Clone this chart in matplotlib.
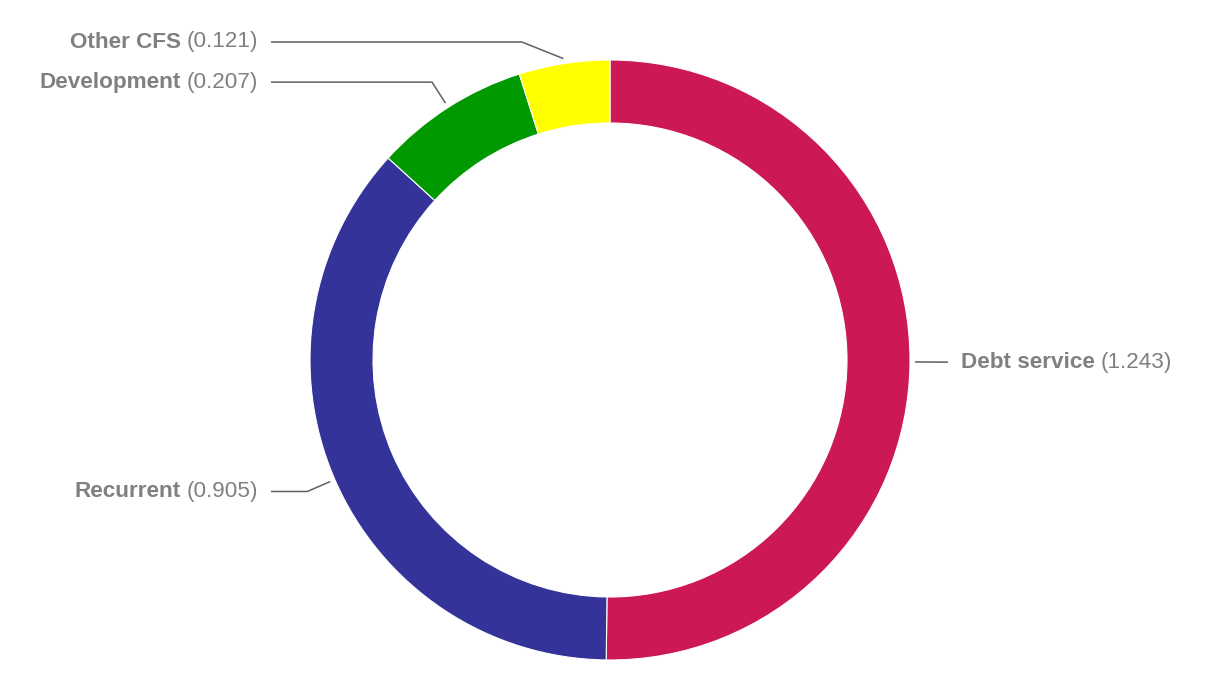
"""Donut chart of expenditure shares with leader-line labels."""

import numpy as np
import matplotlib

matplotlib.use("Agg")
import matplotlib.pyplot as plt

categories = ["Debt service", "Recurrent", "Development", "Other CFS"]
values = [1.243, 0.905, 0.207, 0.121]
value_labels = ["1.243", "0.905", "0.207", "0.121"]
colors = ["#cc1855", "#333399", "#009900", "#ffff00"]

W, H = 1220, 700
CX, CY = 610, 340          # centre in pixel coords (y up)
R_OUT, R_IN = 300, 237
R_ANCHOR, R_ELBOW = 305, 330
TOP_LIMIT = H - 42         # highest label baseline allowed
LINE_END_LEFT, LINE_END_RIGHT = 271, 948
TEXT_GAP = 13
TEXT_COLOR = "#808080"
LINE_COLOR = "#606060"
FONT = ["Liberation Sans", "DejaVu Sans"]
FS = 16.2

fig = plt.figure(figsize=(W / 100, H / 100), dpi=100)
ax = fig.add_axes([0, 0, 1, 1])

ax.pie(values, colors=colors, startangle=90, counterclock=False,
       center=(CX, CY), radius=R_OUT, frame=True,
       wedgeprops=dict(width=R_OUT - R_IN, edgecolor="white", linewidth=0.8))
ax.set_xlim(0, W)
ax.set_ylim(0, H)
ax.set_aspect("equal")
ax.axis("off")

renderer = fig.canvas.get_renderer()
total = sum(values)
cum = np.cumsum([0] + values[:-1])
for name, val, lab, start in zip(categories, values, value_labels, cum):
    theta = 2 * np.pi * (start + val / 2) / total   # clockwise from top
    s, c = np.sin(theta), np.cos(theta)
    ax_x, ax_y = CX + R_ANCHOR * s, CY + R_ANCHOR * c
    ly = min(CY + R_ELBOW * c, TOP_LIMIT)
    dy = ly - CY
    right = s >= 0
    ex = CX + (1 if right else -1) * np.sqrt(max(R_ELBOW ** 2 - dy ** 2, 0))
    end_x = LINE_END_RIGHT if right else LINE_END_LEFT
    ax.plot([ax_x, ex, end_x], [ax_y, ly, ly], color=LINE_COLOR, lw=1.1,
            solid_capstyle="butt")
    if right:
        tx = end_x + TEXT_GAP
        t1 = ax.text(tx, ly, name, fontsize=FS, fontweight="bold", color=TEXT_COLOR,
                     family=FONT, ha="left", va="center")
        bb = t1.get_window_extent(renderer)
        ax.text(bb.x1 + 6, ly, f"({lab})", fontsize=FS, color=TEXT_COLOR,
                family=FONT, ha="left", va="center")
    else:
        tx = end_x - TEXT_GAP
        t2 = ax.text(tx, ly, f"({lab})", fontsize=FS, color=TEXT_COLOR,
                     family=FONT, ha="right", va="center")
        bb = t2.get_window_extent(renderer)
        ax.text(bb.x0 - 6, ly, name, fontsize=FS, fontweight="bold", color=TEXT_COLOR,
                family=FONT, ha="right", va="center")

fig.savefig("out.png", dpi=100)
